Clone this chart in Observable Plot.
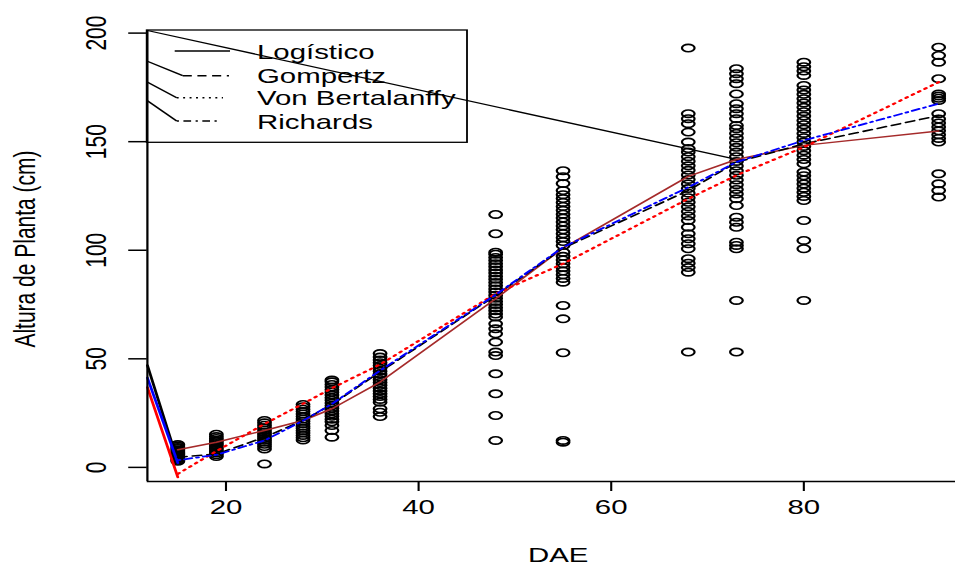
<!DOCTYPE html>
<html>
<head>
<meta charset="utf-8">
<script src="https://cdn.jsdelivr.net/npm/d3@7"></script>
<script src="https://cdn.jsdelivr.net/npm/@observablehq/plot@0.6"></script>
<style>
  html, body { margin: 0; padding: 0; background: #fff; overflow: hidden; }
  #chart { width: 955px; height: 569px; }
</style>
</head>
<body>
<div id="chart"></div>
<script>
// ---------------- DATA ----------------
const dae = [15, 19, 24, 28, 31, 36, 48, 55, 68, 73, 80, 94];

const h15 = [2.8, 3.3, 3.8, 4.2, 4.8, 5.3, 5.9, 6.4, 7.0, 7.6, 8.1, 8.7, 9.2, 9.8, 10.5];
const h19 = [5.0, 5.8, 6.6, 7.3, 8.0, 8.8, 9.5, 10.3, 11.0, 11.8, 12.5, 13.3, 14.2, 15.3];
const h24 = [1.6, 8.5, 9.6, 10.6, 11.6, 12.5, 13.4, 14.3, 15.3, 16.2, 17.2, 18.3, 19.4, 20.5, 21.6];
const h28 = [12.6, 13.6, 14.7, 15.8, 16.9, 18.0, 19.0, 20.1, 21.2, 22.3, 23.4, 24.6, 25.7, 26.8, 27.9, 29.0];
const h31 = [13.9, 17.0, 19.3, 21.0, 22.2, 23.5, 24.7, 26.0, 27.2, 28.4, 29.6, 30.9, 32.1, 33.3, 34.6, 35.8, 37.0, 38.2, 39.4, 40.2];
const h36 = [23.4, 25.4, 27.0, 30.0, 31.3, 32.6, 33.9, 35.2, 36.5, 37.8, 39.1, 40.4, 41.7, 43.0, 44.3, 45.6, 46.9, 48.2, 49.5, 50.8, 52.4];
const h48 = [12.4, 23.9, 33.9, 43.1, 51.5, 53.1, 57.7, 61.5, 63.8, 66.1, 69.2, 70.6, 72.1, 73.5, 75.0, 76.4, 77.9, 79.3, 80.8, 82.2, 83.7, 85.1, 86.6, 88.0, 89.5, 90.9, 92.4, 93.8, 95.3, 96.7, 98.2, 99.1, 107.6, 116.5];
const h55 = [11.6, 12.4, 52.8, 68.4, 74.6, 85.3, 87.0, 88.7, 90.4, 92.1, 93.8, 95.5, 97.2, 99.1, 102.2, 104.0, 105.8, 107.6, 109.4, 111.2, 113.0, 114.8, 116.6, 118.4, 120.2, 122.0, 123.8, 125.6, 127.5, 130.7, 133.9, 136.6];
const h68 = [53.1, 89.9, 92.0, 94.0, 96.1, 100.7, 103.0, 105.3, 107.6, 110.6, 113.7, 115.8, 117.9, 120.0, 122.1, 124.2, 126.3, 128.4, 130.5, 132.6, 134.7, 136.8, 138.9, 141.0, 143.1, 145.2, 146.8, 149.8, 154.4, 158.3, 160.6, 162.9, 193.1];
const h73 = [53.1, 76.9, 100.7, 102.2, 103.7, 110.6, 112.9, 115.2, 120.6, 123.7, 125.9, 128.0, 130.2, 132.3, 134.5, 136.6, 138.8, 140.9, 143.1, 145.2, 147.4, 149.5, 151.7, 153.8, 156.0, 157.5, 160.6, 162.9, 165.2, 167.5, 172.0, 176.7, 179.0, 181.3, 183.6];
const h80 = [76.9, 100.7, 104.5, 113.7, 122.9, 124.8, 126.7, 128.6, 130.5, 132.4, 134.3, 136.0, 139.8, 141.8, 143.8, 145.8, 147.8, 149.8, 151.8, 153.8, 155.8, 157.8, 159.8, 161.8, 163.8, 165.8, 167.8, 169.8, 171.8, 173.8, 175.9, 180.5, 182.5, 184.5, 186.6];
const h94 = [124.5, 127.5, 130.6, 135.2, 149.8, 151.5, 153.2, 155.0, 156.8, 158.6, 160.4, 162.9, 169.0, 170.0, 171.0, 172.0, 179.0, 186.6, 189.7, 193.5];
const heightsByDae = [h15, h19, h24, h28, h31, h36, h48, h55, h68, h73, h80, h94];

// fitted curves evaluated at each DAE
const logistico = [8.1, 11.6, 17.0, 21.6, 27.0, 39.3, 77.7, 101.0, 134.0, 141.8, 148.3, 154.9];
const gompertz  = [4.7, 6.1, 13.9, 21.6, 29.0, 44.0, 79.2, 101.0, 127.5, 140.5, 149.0, 162.0];
const vonBert   = [-3.0, 7.5, 20.0, 29.3, 36.5, 47.4, 80.0, 93.8, 123.7, 134.5, 147.5, 177.4];
const richards  = [3.3, 5.8, 12.4, 21.5, 29.2, 44.6, 79.5, 101.4, 129.0, 140.6, 150.6, 167.5];

// stray straight segments drawn in the original figure
const strayBlackX = [11.84, 15], strayBlackY = [47.0, 2.6];
const strayBlueX  = [11.84, 15], strayBlueY  = [41.3, 2.0];
const strayRedX   = [11.84, 15], strayRedY   = [36.9, -4.5];
const cornerX = [11.84, 73], cornerY = [201.2, 141.8];

const xTicks = [20, 40, 60, 80];
const yTicks = [0, 50, 100, 150, 200];
const xDomain = [11.84, 97.16];
const yDomain = [-6.5, 201.2];

const legendLabels = ["Logístico", "Gompertz", "Von Bertalanffy", "Richards"];

// ---------------- LAYOUT ----------------
const S = 1.4;                  // horizontal stretch of the reference picture
const W = 955, H = 569;
const LW = W / S;               // local (unstretched) width
const ML = 146.7 / S;
const XR = 968.4 / S;           // right end of the R plot region (beyond the picture)
const FONT = "'Liberation Sans', Arial, Helvetica, sans-serif";
const FS = 21;

// build tables
const points = [];
dae.forEach((d, i) => heightsByDae[i].forEach(h => points.push({dae: d, h})));
const fits = dae.map((d, i) => ({dae: d, logistico: logistico[i], gompertz: gompertz[i], vonBert: vonBert[i], richards: richards[i]}));
const seg = (xs, ys) => xs.map((x, i) => ({x, y: ys[i]}));

// open ellipse (R pch = 1 circles, stretched)
const ellipse = {
  draw(ctx, size) {
    const r = Math.sqrt(size / Math.PI), rx = r * 1.22, ry = r, k = 0.5523;
    ctx.moveTo(rx, 0);
    ctx.bezierCurveTo(rx, ry * k, rx * k, ry, 0, ry);
    ctx.bezierCurveTo(-rx * k, ry, -rx, ry * k, -rx, 0);
    ctx.bezierCurveTo(-rx, -ry * k, -rx * k, -ry, 0, -ry);
    ctx.bezierCurveTo(rx * k, -ry, rx, -ry * k, rx, 0);
    ctx.closePath();
  }
};

const svg = Plot.plot({
  width: LW,
  height: H,
  marginLeft: ML,
  marginRight: 0,
  marginTop: 30,
  marginBottom: 88,
  style: {fontFamily: FONT, fontSize: FS + "px", background: "white", color: "black", overflow: "hidden"},
  x: {domain: xDomain, range: [ML, XR]},
  y: {domain: yDomain},
  marks: [
    Plot.dot(points, {x: "dae", y: "h", r: 3.7, symbol: ellipse, fill: "none", stroke: "black", strokeWidth: 1.6}),
    Plot.line(seg(cornerX, cornerY), {x: "x", y: "y", stroke: "black", strokeWidth: 1.3}),
    Plot.line(seg(strayBlackX, strayBlackY), {x: "x", y: "y", stroke: "black", strokeWidth: 2}),
    Plot.line(seg(strayBlueX, strayBlueY), {x: "x", y: "y", stroke: "#0000ff", strokeWidth: 2}),
    Plot.line(seg(strayRedX, strayRedY), {x: "x", y: "y", stroke: "#ff0000", strokeWidth: 2}),
    Plot.line(fits, {x: "dae", y: "logistico", stroke: "#a52a2a", strokeWidth: 1.5}),
    Plot.line(fits, {x: "dae", y: "gompertz", stroke: "black", strokeWidth: 1.6, strokeDasharray: "6.5,4"}),
    Plot.line(fits, {x: "dae", y: "vonBert", stroke: "#ff0000", strokeWidth: 2.1, strokeDasharray: "1.4,4"}),
    Plot.line(fits, {x: "dae", y: "richards", stroke: "#0000ff", strokeWidth: 1.8, strokeDasharray: "1.6,3.2,5.5,3.2"}),
    Plot.ruleX([xDomain[0]], {stroke: "black", strokeWidth: 1.6}),
    Plot.ruleY([yDomain[0]], {stroke: "black", strokeWidth: 1.6}),
    Plot.axisX({ticks: xTicks, tickSize: 10, tickPadding: 7.5, fontSize: FS, label: null, strokeWidth: 1.5}),
    Plot.axisY({ticks: yTicks, tickSize: 13.2, tickPadding: 16.2, tickRotate: -90, fontSize: FS, label: null, strokeWidth: 1.5}),
    Plot.text(["Altura de Planta (cm)"], {frameAnchor: "left", textAnchor: "middle", dx: 25 / S - ML, dy: -7, rotate: -90, fontSize: FS}),
    Plot.text(["DAE"], {x: d3.mean(xDomain), frameAnchor: "bottom", textAnchor: "middle", dy: 80.7, fontSize: FS})
  ]
});

// ---------------- LEGEND (R-style box, top-left) ----------------
const lgBox = {x0: 146.7 / S, x1: 467 / S, y0: 30, y1: 142.3};
const lgSampleY = [51, 75.7, 97.7, 121];
const lgSampleX0 = [174.7 / S, 182.7 / S, 176.7 / S, 176.7 / S];
const lgSampleX1 = [230 / S, 229 / S, 223 / S, 220 / S];
const lgDash = [null, "6.5,4", "1.4,3.2", "1.6,3.2,5.5,3.2"];
const lgConnectorY = [null, 61, 81.7, 100.3];
const lgTextX = 257 / S;

const lg = d3.select(svg).append("g").attr("fill", "none").attr("stroke", "black");
lg.append("rect")
  .attr("x", lgBox.x0).attr("y", lgBox.y0)
  .attr("width", lgBox.x1 - lgBox.x0).attr("height", lgBox.y1 - lgBox.y0)
  .attr("stroke-width", 1.3);
const lgText = d3.select(svg).append("g")
  .attr("font-family", FONT).attr("font-size", FS).attr("fill", "black")
  .attr("text-anchor", "start");
legendLabels.forEach((lab, i) => {
  lg.append("line")
    .attr("x1", lgSampleX0[i]).attr("x2", lgSampleX1[i])
    .attr("y1", lgSampleY[i]).attr("y2", lgSampleY[i])
    .attr("stroke-width", 1.4)
    .attr("stroke-dasharray", lgDash[i]);
  if (lgConnectorY[i] != null) {
    lg.append("line")
      .attr("x1", lgBox.x0).attr("y1", lgConnectorY[i])
      .attr("x2", lgSampleX0[i]).attr("y2", lgSampleY[i])
      .attr("stroke-width", 1.4);
  }
  lgText.append("text")
    .attr("x", lgTextX).attr("y", lgSampleY[i] + 0.358 * FS)
    .attr("text-anchor", "start")
    .text(lab);
});

// stretch horizontally like the reference picture
svg.setAttribute("width", W);
svg.setAttribute("height", H);
svg.setAttribute("viewBox", `0 0 ${LW} ${H}`);
svg.setAttribute("preserveAspectRatio", "none");
svg.style.width = W + "px";
svg.style.height = H + "px";
svg.style.maxWidth = "none";

document.getElementById("chart").appendChild(svg);
</script>
</body>
</html>
